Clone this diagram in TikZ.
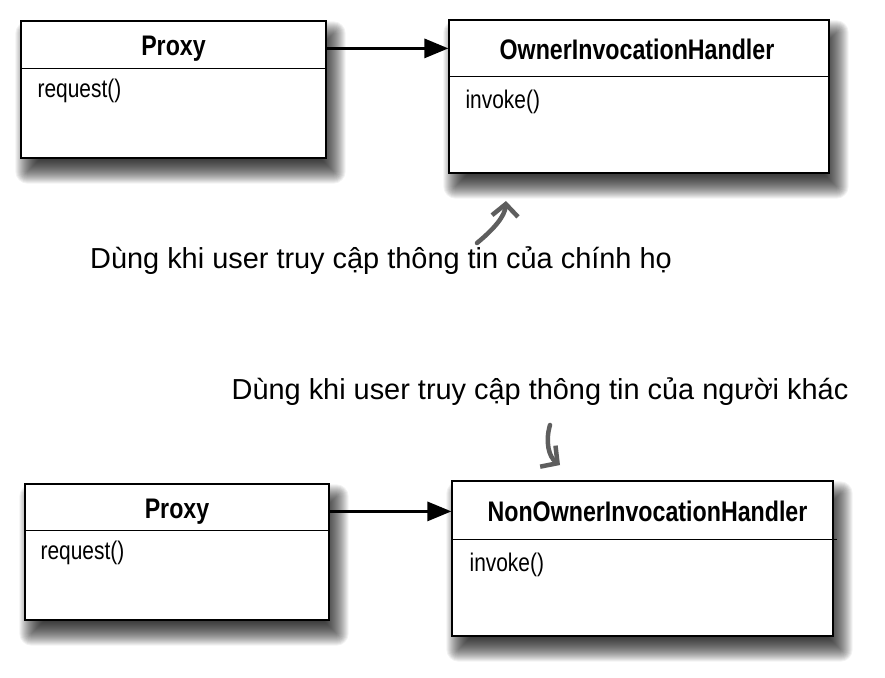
\documentclass[tikz,border=0pt]{standalone}
\usepackage{fontspec}
\setmainfont{Liberation Sans}
\newfontfamily\etroite[FakeStretch=0.82]{Liberation Sans}
\usetikzlibrary{calc,backgrounds,arrows.meta}
\definecolor{crayon}{HTML}{5E5E5E}
% ombre douce sous une boite (empilement de rectangles transparents)
\newcommand{\ombre}[1]{%
    \foreach \k in {-12,...,12} {%
        \pgfmathsetmacro{\rc}{max(\k,0.1)}%
        \fill[black, fill opacity=0.05, rounded corners=\rc pt]
            ($(#1.south west)+({7-\k},{-13-\k})$) rectangle ($(#1.north east)+({7+\k},{-13+\k})$);%
    }%
}

\begin{document}
\begin{tikzpicture}[x=1pt, y=1pt]
        %
% Styles
%
\tikzset{every node/.style={font=\etroite\fontsize{25.5}{30}\selectfont}};%
\tikzset{classe/.style={draw, line width=1.2pt, fill=white, inner sep=0pt}};%
\tikzset{titre/.style={font=\etroite\bfseries\fontsize{28.3}{32}\selectfont, inner sep=0pt}};%
\tikzset{methode/.style={anchor=west, inner sep=0pt}};%
\tikzset{separation/.style={line width=1.2pt}};%
\tikzset{fleche/.style={-{Triangle[length=24pt, width=19pt]}, line width=3pt}};%
\tikzset{remarque/.style={font=\fontsize{28.9}{34}\selectfont, inner sep=0pt}};%
\tikzset{crochet/.style={-{Straight Barb[length=12pt, width=26pt]}, crayon, line width=4.5pt, line cap=round, line join=round}};%

\useasboundingbox (0,0) rectangle (885,-677);%

%
% Proxy du proprietaire
%
\node[classe, minimum width=305pt, minimum height=137pt] (p1) at (173.5,-89.5) {};%
\node[titre] (p1t) at ($(p1.north)+(0,-28)$) {Proxy};%
\draw[separation] ($(p1.north west)+(0,-48)$) -- ($(p1.north east)+(0,-48)$);%
\node[methode] (p1m) at ($(p1.north west)+(17,-71)$) {request()};%

\node[classe, minimum width=380pt, minimum height=153pt] (o1) at (639,-96.5) {};%
\node[titre] (o1t) at ($(o1.north)+(-2,-30)$) {OwnerInvocationHandler};%
\draw[separation] ($(o1.north west)+(0,-57)$) -- ($(o1.north east)+(0,-57)$);%
\node[methode] (o1m) at ($(o1.north west)+(17,-83)$) {invoke()};%

\draw[fleche] (p1.east |- p1t) -- (o1.west |- p1t);%

\node[remarque] (r1) at (381,-261) {Dùng khi user truy cập thông tin của chính họ};%
\coordinate (d1) at (477,-243);%
\coordinate (f1) at (506,-201);%
\draw[crochet] (d1) .. controls (494,-229) and (505,-216) .. (f1);%

%
% Proxy des autres
%
\node[remarque] (r2) at (540,-392) {Dùng khi user truy cập thông tin của người khác};%
\coordinate (d2) at (550,-425);%
\coordinate (f2) at (560,-465);%
\draw[crochet] (d2) .. controls (545,-442) and (549,-457) .. (f2);%

\node[classe, minimum width=304pt, minimum height=136pt] (p2) at (177,-552) {};%
\node[titre] (p2t) at ($(p2.north)+(0,-28)$) {Proxy};%
\draw[separation] ($(p2.north west)+(0,-47)$) -- ($(p2.north east)+(0,-47)$);%
\node[methode] (p2m) at ($(p2.north west)+(16,-69)$) {request()};%

\node[classe, minimum width=381pt, minimum height=155pt] (o2) at (642.5,-558.5) {};%
\node[titre] (o2t) at ($(o2.north)+(5,-31)$) {NonOwnerInvocationHandler};%
\draw[separation] ($(o2.north west)+(0,-59)$) -- ($(o2.north east)+(3,-59)$);%
\node[methode] (o2m) at ($(o2.north west)+(18,-84)$) {invoke()};%

\draw[fleche] (p2.east |- p2t) -- (o2.west |- p2t);%

% Ombres derriere les boites
\begin{scope}[on background layer]
    \fill[white] (0,0) rectangle (885,-677);%
    \ombre{p1} \ombre{o1} \ombre{p2} \ombre{o2}%
\end{scope}
    \end{tikzpicture}
\end{document}
